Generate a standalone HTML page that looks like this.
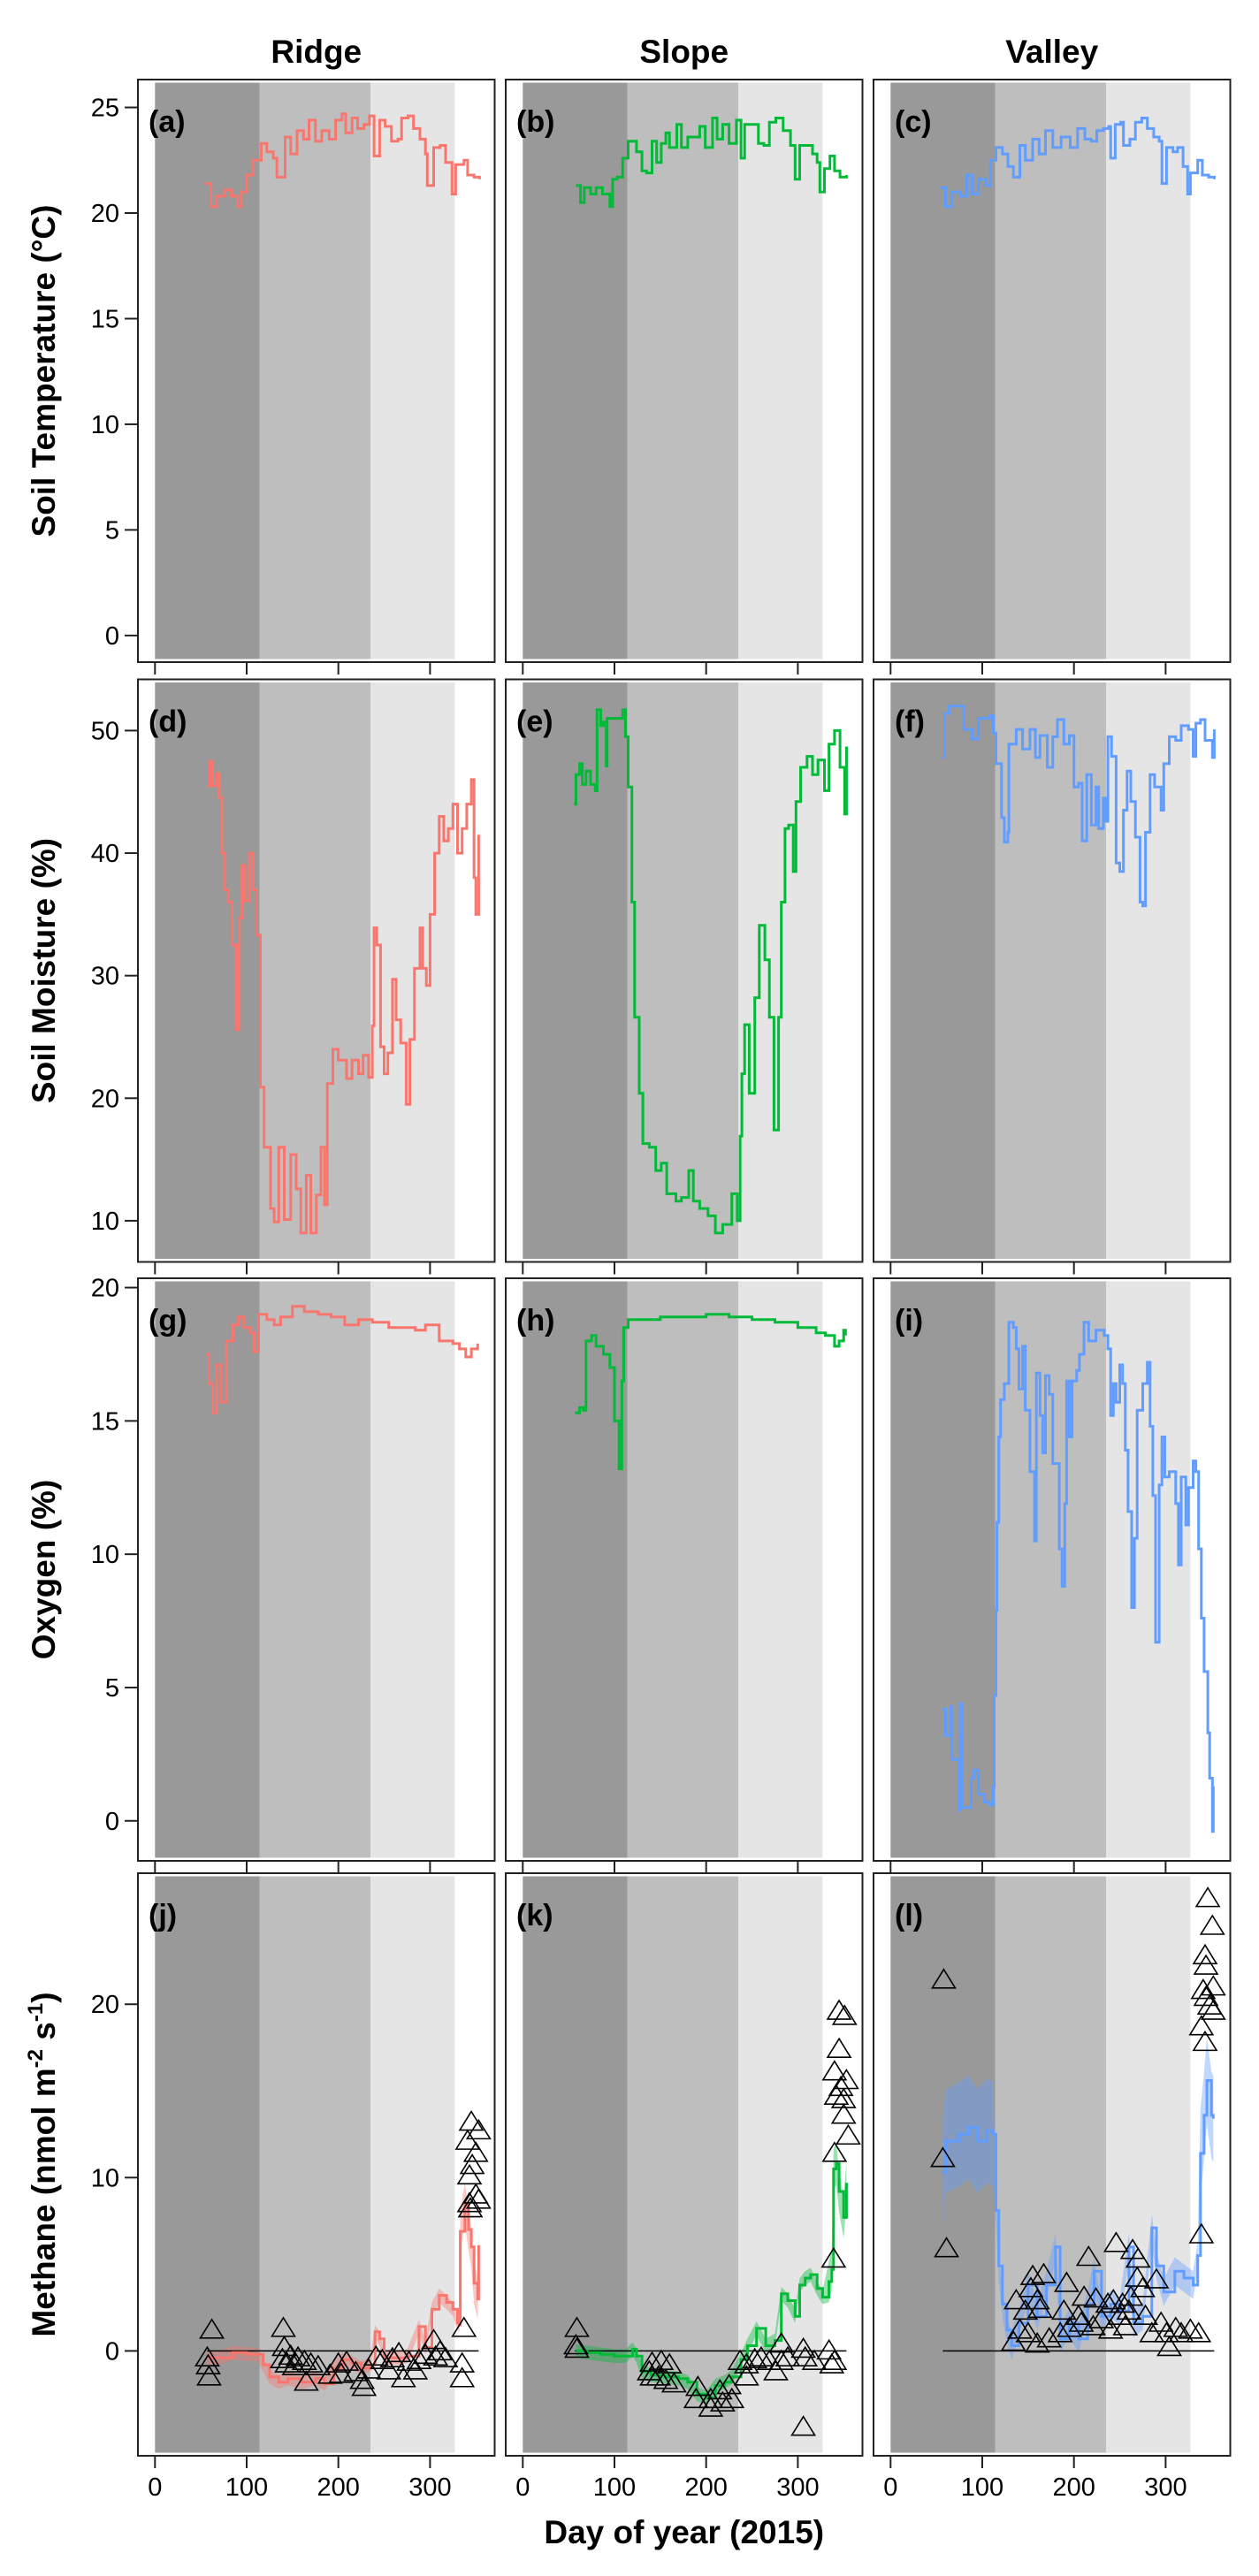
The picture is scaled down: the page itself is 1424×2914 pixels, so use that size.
<!DOCTYPE html>
<html><head><meta charset="utf-8"><title>Soil time series 2015</title>
<style>
html,body{margin:0;padding:0;background:#fff;}
svg{display:block;font-family:"Liberation Sans",Arial,sans-serif;}
</style></head>
<body>
<svg id="fig" width="1424" height="2914" viewBox="0 0 1424 2914" xmlns="http://www.w3.org/2000/svg"></svg>
<script>
// ---------- data (day of year, value) ----------
const colNames = ["Ridge","Slope","Valley"];
const panelLetters = ["a","b","c","d","e","f","g","h","i","j","k","l"];
const rowTitles = ["Soil Temperature (\u00B0C)","Soil Moisture (%)","Oxygen (%)","Methane"];
const seasonBreaks = [0,114,235,327];
const xTicks = [0,100,200,300];
const tempTicks = [0,5,10,15,20,25];
const moistTicks = [10,20,30,40,50];
const oxyTicks = [0,5,10,15,20];
const methTicks = [0,10,20];

const tempRidge = [[55,21.4],[61,20.3],[67,20.8],[76,21.1],[83,20.8],[90,20.3],[94,21],[100,21.8],[107,22.5],[116,23.3],[122,22.9],[129,22.6],[133,21.7],[142,23.6],[148,22.8],[155,23.9],[162,23.5],[168,24.4],[175,23.4],[182,23.9],[190,23.5],[197,24.4],[204,24.7],[208,23.8],[215,24.5],[221,24],[228,24.2],[234,24.6],[239,22.7],[245,24.4],[251,24.1],[258,23.4],[265,23.5],[269,24.5],[276,24.6],[282,24],[289,23.5],[295,22.8],[297,21.3],[304,23.1],[311,23.2],[317,22.4],[324,20.9],[328,22.3],[337,22.5],[341,21.8],[348,21.7],[354,21.6]];
const tempSlope = [[58,21.3],[63,20.5],[67,21.2],[74,20.9],[80,21.2],[87,20.9],[95,20.3],[98,21.6],[103,21.7],[109,22.6],[115,23.4],[124,22.9],[130,22.0],[135,21.9],[141,23.4],[146,22.4],[151,23.3],[156,23.8],[160,23.1],[168,24.2],[173,23.1],[180,23.6],[186,23.6],[193,24.1],[199,23.1],[207,24.5],[212,23.5],[218,24.2],[225,23.3],[233,24.4],[238,22.6],[242,24.2],[250,24.2],[257,23.3],[263,23.2],[269,24.3],[276,24.5],[284,23.9],[292,23.2],[297,21.6],[302,23.2],[311,23.2],[316,22.8],[321,22.4],[324,21.0],[329,22.1],[335,22.7],[340,22.0],[346,21.7],[353,21.8]];
const tempValley = [[54,21.2],[60,20.3],[67,21.0],[76,20.8],[83,21.8],[89,20.9],[96,21.6],[104,21.3],[109,22.5],[115,23.1],[122,22.8],[128,22.2],[134,21.7],[141,23.2],[147,22.5],[155,23.5],[162,22.8],[169,23.9],[177,23.1],[186,23.6],[196,23.1],[204,24],[212,23.5],[219,23.4],[225,23.9],[232,24],[238,24.1],[240,22.6],[245,24.2],[251,24.3],[254,23.2],[261,23.5],[267,24.3],[274,24.5],[280,24],[287,23.6],[293,23.4],[296,21.4],[301,23.1],[308,22.9],[313,23.1],[319,22.2],[324,20.9],[327,21.9],[335,22.5],[340,21.8],[347,21.7],[353,21.6]];

const moistRidge = [[57,45.5],[60,47.5],[63,45.5],[67,46.5],[70,44.5],[73,40],[76,37],[80,36],[84,32.5],[89,25.6],[92,34.7],[95,39],[98,36.1],[103,40],[107,37],[111,33.3],[115,20.9],[119,16],[126,11],[130,9.9],[135,16],[141,10.1],[148,15.4],[154,12.6],[159,9.0],[165,13.7],[170,9.0],[176,12.1],[181,16],[185,11.3],[188,21.2],[194,24],[200,23.1],[209,21.6],[215,23.1],[222,22],[227,23.5],[233,21.7],[237,25.9],[239,33.9],[242,32.5],[246,24.2],[250,22],[254,23.7],[259,29.7],[263,26.4],[268,24.5],[274,19.5],[278,24.8],[283,30.6],[289,33.9],[292,30.6],[296,29.2],[300,35],[305,40],[310,43],[315,41],[320,42],[325,44],[330,40],[335,42],[340,44],[345,46],[348,38],[350,35],[353,41.5]];
const moistSlope = [[56,44.0],[58,46.4],[62,47.3],[65,45.6],[69,46.7],[74,45.6],[79,45.1],[81,51.7],[85,50.4],[88,50.7],[91,47.1],[92,51.0],[109,51.7],[112,49.5],[115,45.4],[119,36.0],[122,26.6],[127,20.4],[131,16.3],[138,16.0],[145,14.1],[151,14.7],[157,12.2],[167,11.6],[173,11.9],[181,14.1],[186,11.6],[193,11.0],[202,10.4],[210,9.0],[218,9.7],[228,12.2],[234,10.0],[237,16.9],[239,22.0],[242,26.0],[247,20.4],[253,28.2],[258,34.1],[264,31.3],[269,26.6],[274,17.4],[279,26.6],[282,36.0],[286,42.0],[290,42.3],[295,38.5],[298,44.2],[303,47.0],[310,47.9],[316,46.4],[322,47.6],[329,45.1],[334,48.9],[340,50.0],[346,47.0],[351,43.2],[353,48.7]];
const moistValley = [[57,47.8],[59,51.4],[64,52.0],[73,52.0],[80,50.1],[89,49.3],[96,51.0],[108,51.2],[112,49.8],[115,47.3],[121,42.9],[124,40.9],[128,41.7],[129,48.9],[137,50.1],[144,48.5],[152,50.1],[158,47.8],[163,49.6],[171,47.0],[177,49.5],[182,50.9],[189,48.9],[195,49.6],[200,45.4],[205,45.7],[209,41.0],[214,46.4],[219,42.3],[224,45.4],[227,42.0],[232,44.5],[235,42.6],[237,49.5],[241,47.9],[246,39.2],[250,38.5],[254,43.5],[258,46.7],[262,44.2],[267,41.3],[272,36.0],[275,35.7],[278,41.7],[283,46.4],[288,45.4],[295,43.5],[298,47.3],[304,49.5],[311,49.2],[317,50.4],[325,50.1],[330,47.9],[333,50.6],[338,50.9],[343,49.2],[351,47.8],[353,50.1]];

const oxyRidge = [[56,17.5],[59,16.4],[63,15.3],[67,17.1],[72,15.7],[78,18.0],[85,18.6],[91,18.9],[97,18.5],[104,18.3],[108,17.6],[113,19.0],[122,18.8],[130,18.6],[137,18.9],[150,19.3],[163,19.1],[178,19.0],[192,18.9],[207,18.6],[222,18.8],[237,18.7],[255,18.5],[270,18.5],[284,18.4],[295,18.6],[310,18.0],[325,17.9],[332,17.7],[339,17.4],[345,17.7],[352,17.9]];
const oxySlope = [[57,15.3],[62,15.5],[66,15.4],[69,18.0],[75,18.2],[80,17.8],[88,17.5],[95,17.0],[100,15.0],[105,13.2],[108,16.5],[110,18.5],[115,18.8],[130,18.8],[150,18.9],[175,18.9],[200,19.0],[225,18.9],[250,18.8],[275,18.7],[300,18.5],[320,18.3],[330,18.2],[340,17.8],[345,18.0],[350,18.4],[352,18.2]];
const oxyValley = [[57,4.2],[60,3.2],[66,4.3],[67,2.3],[70,2.3],[75,0.4],[76,4.4],[78,0.5],[84,0.5],[88,1.6],[91,1.9],[96,1.0],[102,0.7],[108,0.6],[112,1.3],[113,4.7],[115,7.9],[116,11.2],[118,14.4],[120,15.8],[124,16.4],[129,18.7],[134,18.5],[137,17.7],[140,16.2],[144,17.8],[147,15.4],[152,13.1],[157,10.5],[159,16.8],[163,15.2],[166,13.8],[169,16.7],[173,16.0],[177,13.4],[184,10.2],[187,8.8],[190,11.9],[192,16.5],[195,14.4],[198,16.5],[203,16.9],[206,17.5],[211,18.7],[216,18.0],[224,18.4],[233,18.2],[237,17.7],[240,15.2],[243,16.4],[246,15.7],[250,17.1],[253,16.4],[256,13.9],[259,11.6],[263,8.0],[266,10.6],[269,15.4],[275,16.4],[280,17.2],[283,14.8],[286,12.2],[289,6.7],[293,12.6],[296,14.4],[299,12.9],[304,13.1],[311,11.9],[314,9.6],[317,12.9],[322,11.1],[325,12.5],[330,13.5],[333,13.1],[336,10.2],[339,7.6],[342,5.6],[346,3.3],[348,1.6],[351,-0.4],[352,1.3]];

const methRidge = [[57,-0.4],[70,-0.4],[85,-0.1],[100,-0.2],[112,-0.2],[118,-0.8],[125,-1.5],[135,-1.8],[145,-1.6],[160,-1.8],[175,-1.6],[185,-1.9],[195,-1.0],[205,-0.5],[215,-0.7],[225,-1.0],[235,-0.8],[240,1.1],[245,0.7],[250,-0.4],[265,-0.4],[275,-0.3],[288,1.4],[295,0.2],[302,2.4],[310,3.2],[318,2.8],[325,2.4],[330,1.6],[332,1.5],[333,6.9],[338,8.5],[342,7.0],[345,6.0],[348,3.9],[352,3.0],[353,6.1]];
const methSlope = [[58,0.0],[70,-0.1],[85,-0.2],[100,-0.3],[112,-0.3],[120,0.1],[124,-0.3],[130,-1.2],[140,-1.4],[155,-1.5],[170,-1.6],[180,-1.8],[190,-2.5],[200,-2.7],[210,-2.0],[220,-1.8],[228,-1.5],[238,-0.5],[245,0.3],[255,1.3],[265,0.3],[275,0.6],[282,3.3],[289,2.9],[297,2.0],[302,3.8],[308,4.2],[314,4.4],[321,3.6],[327,3.1],[334,4.0],[337,4.7],[339,10.5],[342,10.8],[345,9.2],[350,7.7],[353,9.7]];
const methValley = [[57,10.3],[60,12.1],[75,12.5],[85,12.9],[95,12.1],[105,12.7],[112,12.5],[115,8.1],[118,4.9],[122,2.7],[127,1.2],[132,0.3],[140,1.6],[150,3.8],[160,2.0],[170,3.8],[180,6.0],[185,0.7],[195,1.6],[205,0.7],[215,2.7],[222,4.6],[230,2.0],[240,2.7],[250,2.3],[260,6.0],[265,1.6],[275,2.0],[285,7.1],[290,4.9],[298,3.4],[310,4.6],[320,4.2],[330,3.8],[335,5.5],[338,11.4],[342,13.6],[345,15.6],[350,13.6],[352,13.4]];

const obsRidge = [[62,1.2],[57,-0.4],[58,-0.85],[59,-1.5],[140,1.3],[141,0.2],[139,-0.5],[148,-0.3],[156,-0.4],[163,-0.6],[170,-0.75],[144,-0.75],[152,-0.9],[165,-1.8],[178,-0.9],[191,-1.4],[200,-0.75],[209,-0.65],[219,-1.25],[226,-1.7],[228,-2.1],[233,-1.1],[241,-0.35],[248,-0.55],[259,-0.45],[266,-0.15],[271,-1.6],[277,-0.65],[288,-0.55],[295,-0.25],[304,0.6],[306,-0.35],[311,-0.05],[317,-0.45],[337,1.3],[335,-0.75],[335,-1.6],[255,-1.15],[284,-1.15],[203,-1.35],[345,13.2],[353,12.7],[341,12.1],[350,11.4],[346,10.7],[343,10.1],[350,9.0],[343,8.5],[353,8.7],[344,8.2]];
const obsSlope = [[59,1.3],[58,0.3],[59,0.1],[141,-0.7],[151,-0.6],[160,-0.8],[148,-1.5],[156,-1.7],[165,-1.9],[141,-1.5],[138,-1.2],[191,-2.1],[189,-2.8],[205,-3.3],[205,-2.8],[215,-2.3],[225,-2.0],[228,-2.8],[218,-3.0],[237,-0.6],[244,-0.8],[253,-0.5],[260,-0.4],[269,-0.6],[282,0.4],[282,-0.6],[289,-0.4],[306,0.1],[308,-0.4],[318,-0.6],[334,0.0],[337,-0.8],[340,-0.6],[276,-1.2],[244,-1.5],[306,-4.4],[345,19.6],[351,19.3],[345,17.4],[340,16.1],[353,15.6],[347,15.2],[342,14.7],[350,14.5],[350,13.6],[355,12.4],[340,11.4],[339,5.3]];
const obsValley = [[58,21.4],[57,11.1],[61,5.9],[346,26.1],[351,24.5],[343,22.8],[344,22.2],[341,20.8],[352,21.0],[344,20.4],[348,19.9],[339,18.7],[352,19.6],[343,17.8],[339,6.7],[155,4.3],[167,4.4],[192,3.9],[216,5.4],[246,6.2],[264,5.8],[270,5.3],[290,4.1],[137,2.9],[153,3.6],[160,2.9],[189,2.3],[211,3.1],[224,3.0],[237,2.7],[243,2.9],[253,2.7],[262,3.1],[269,4.2],[275,3.6],[147,2.3],[163,2.4],[205,2.0],[230,1.8],[250,2.0],[260,2.3],[278,2.0],[141,1.2],[150,1.0],[173,0.7],[195,1.3],[208,1.6],[221,1.4],[240,1.2],[256,1.4],[285,1.0],[295,1.6],[301,1.0],[311,1.3],[317,1.0],[327,1.2],[336,1.0],[304,0.2],[160,0.4],[134,0.5],[185,1.0]];

// ---------- layout ----------
const NS = "http://www.w3.org/2000/svg";
const svg = document.getElementById("fig");
const colLeft = [156,572,988], panelW = 403.5;
const rowTop = [90,768.5,1446,2119], panelH = 659;
const xMin = -18.6, xMax = 370.5;
const yDomains = [[-1.26,26.32],[6.64,54.18],[-1.5,20.35],[-6.05,27.56]];
const colors = ["#F8766D","#00BA38","#619CFF"];
const shades = ["#999999","#bebebe","#e5e5e5"];
const series = [[tempRidge,tempSlope,tempValley],[moistRidge,moistSlope,moistValley],[oxyRidge,oxySlope,oxyValley],[methRidge,methSlope,methValley]];
const obs = [obsRidge,obsSlope,obsValley];
const yTicksAll = [tempTicks,moistTicks,oxyTicks,methTicks];

function mk(tag, attrs, parent){const e=document.createElementNS(NS,tag);for(const k in attrs)e.setAttribute(k,attrs[k]);(parent||svg).appendChild(e);return e;}
function xs(c,d){return colLeft[c]+(d-xMin)/(xMax-xMin)*panelW;}
function ys(r,v){const [a,b]=yDomains[r];return rowTop[r]+panelH-(v-a)/(b-a)*panelH;}
function stepPath(c,r,data){
  let d="";
  data.forEach((p,i)=>{
    const x=xs(c,p[0]).toFixed(1), y=ys(r,p[1]).toFixed(1);
    if(i===0){d+="M"+x+","+y;}
    else{d+=" H"+x+" V"+y;}
  });
  return d;
}

for(let r=0;r<4;r++){
  for(let c=0;c<3;c++){
    const g=mk("g",{});
    
    
    for(let s=0;s<3;s++){
      const x1=xs(c,seasonBreaks[s]), x2=xs(c,seasonBreaks[s+1]);
      const rc=mk("rect",{x:x1,y:rowTop[r]+3.5,width:x2-x1,height:panelH-7,fill:shades[s]},g);
      
      
    }
    const data=series[r][c];
    if(r===3){
      const up=[],dn=[];
      data.forEach(p=>{const hw=(c===2)?(p[0]<115?3:(p[0]>335?2.5:0.8)):(p[0]>332?1.2:0.4);up.push(xs(c,p[0])+","+ys(r,p[1]+hw));dn.unshift(xs(c,p[0])+","+ys(r,p[1]-hw));});
      const band=mk("polygon",{points:up.concat(dn).join(" "),fill:colors[c],"fill-opacity":0.4,stroke:"none"},g);
      
      
      const zl=mk("line",{x1:xs(c,57),x2:xs(c,353),y1:ys(r,0),y2:ys(r,0),stroke:"#000","stroke-width":1.6},g);
      
      
    }
    const pl=mk("path",{d:stepPath(c,r,data),fill:"none",stroke:colors[c],"stroke-width":3},g);
    
    
    if(r===3){
      obs[c].forEach(p=>{
        const x=xs(c,p[0]), y=ys(r,p[1]);
        const t=mk("path",{d:`M${x},${y-12} L${x+13},${y+9} L${x-13},${y+9} Z`,fill:"none",stroke:"#000","stroke-width":1.6},g);
        
        
      });
    }
    const fr=mk("rect",{x:colLeft[c],y:rowTop[r],width:panelW,height:panelH,fill:"none",stroke:"#222","stroke-width":2},g);
    
    
    const lb=mk("text",{x:colLeft[c]+(c===2?24:12),y:rowTop[r]+59,"font-size":34,"font-weight":"bold"},g);
    lb.textContent="("+panelLetters[r*3+c]+")";
    
    
    xTicks.forEach(t=>{
      const tk=mk("line",{x1:xs(c,t),x2:xs(c,t),y1:rowTop[r]+panelH,y2:rowTop[r]+panelH+14,stroke:"#222","stroke-width":2},g);
      
      
      if(r===3){
        const tl=mk("text",{x:xs(c,t),y:2823,"font-size":29,"text-anchor":"middle"},g);
        tl.textContent=t;
        
        
      }
    });
    if(c===0){
      yTicksAll[r].forEach(t=>{
        const tk=mk("line",{x1:colLeft[0]-15,x2:colLeft[0],y1:ys(r,t),y2:ys(r,t),stroke:"#222","stroke-width":2},g);
        
        
        const tl=mk("text",{x:135,y:ys(r,t)+10,"font-size":29,"text-anchor":"end"},g);
        tl.textContent=t;
        
        
      });
    }
  }
  const cy=rowTop[r]+panelH/2;
  const yt=mk("text",{x:0,y:0,"font-size":37,"font-weight":"bold","text-anchor":"middle",transform:`translate(62,${cy}) rotate(-90)`});
  if(r<3){yt.textContent=rowTitles[r];}
  else{
    yt.appendChild(document.createTextNode("Methane (nmol m"));
    const s1=mk("tspan",{"font-size":24,dy:-14},yt);s1.textContent="-2";
    const s2=mk("tspan",{dy:14},yt);s2.textContent=" s";
    const s3=mk("tspan",{"font-size":24,dy:-14},yt);s3.textContent="-1";
    const s4=mk("tspan",{dy:14},yt);s4.textContent=")";
  }
  
  
}
for(let c=0;c<3;c++){
  const ct=mk("text",{x:colLeft[c]+panelW/2,y:71,"font-size":37,"font-weight":"bold","text-anchor":"middle"});
  ct.textContent=colNames[c];
  
  
}
const xt=mk("text",{x:colLeft[1]+panelW/2,y:2877,"font-size":37,"font-weight":"bold","text-anchor":"middle"});
xt.textContent="Day of year (2015)";


</script>
</body></html>
